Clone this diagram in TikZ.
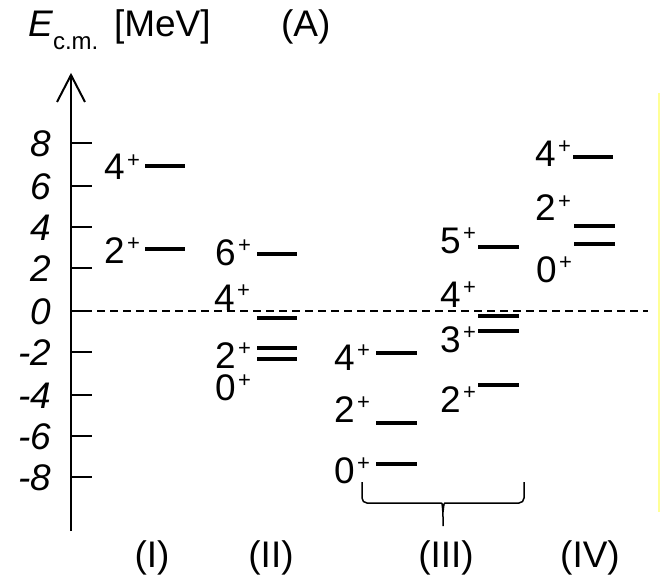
\documentclass[tikz,border=0pt]{standalone}
\usepackage{fontspec}
\setmainfont{Liberation Sans}
\newcommand\pl{\kern2.5pt\raisebox{13pt}{\fontsize{22}{22}\selectfont +}}
\begin{document}
\begin{tikzpicture}[x=1pt,y=-1pt,
  lbl/.style={anchor=base west,inner sep=0pt,outer sep=0pt,text height=27pt,text depth=0pt,font=\fontsize{37}{40}\selectfont},
  num/.style={anchor=base east,inner sep=0pt,outer sep=0pt,font=\fontsize{37}{40}\selectfont\itshape},
  lvl/.style={line width=4.5pt},
  axtick/.style={line width=1.6pt},
  brace/.style={line width=1.5pt,rounded corners=5pt}]
\useasboundingbox (0,0) rectangle (661,580);
% title
\node[lbl,font=\fontsize{37}{40}\selectfont\itshape] (E) at (28,37) {E};
\node[lbl,text height=18pt,font=\fontsize{24}{26}\selectfont] (cm) at (53,50) {c.m.};
\node[lbl] (mev) at (114,37) {[MeV]};
\node[lbl] (A) at (281,37) {(A)};
% axis
\draw[line width=2.6pt] (71,531) -- (71,76);
\draw[line width=2pt,line join=miter] (57,102) -- (71,75) -- (85,102);
\foreach \y/\t in {143/8,186/6,227/4,268/2,311/0,352/-2,395/-4,436/-6,477/-8}{
  \draw[axtick] (71,\y) -- (92,\y);
  \node[num] (n\t) at (51,\y+13.5) {\t};
}
% zero line
\draw[line width=1.4pt,dash pattern=on 8pt off 5pt] (71,311) -- (648,311);
% yellow rule
\draw[line width=2.5pt,color={rgb,255:red,255;green,255;blue,150}] (659,93) -- (659,512);
% column I
\draw[lvl] (145,166) -- (185,166);
\draw[lvl] (145,249) -- (185,249);
\node[lbl] (I4) at (104,180) {4\pl};
\node[lbl] (I2) at (104,263) {2\pl};
% column II
\draw[lvl] (257,254) -- (297,254);
\draw[lvl] (257,318) -- (297,318);
\draw[lvl] (257,348) -- (297,348);
\draw[lvl] (257,359) -- (297,359);
\node[lbl] (II6) at (215,265) {6\pl};
\node[lbl] (II4) at (214,310) {4\pl};
\node[lbl] (II2) at (215,368) {2\pl};
\node[lbl] (II0) at (215,400) {0\pl};
% column III left
\draw[lvl] (376,353) -- (417,353);
\draw[lvl] (376,423) -- (417,423);
\draw[lvl] (376,464) -- (417,464);
\node[lbl] (IIIa4) at (334,370) {4\pl};
\node[lbl] (IIIa2) at (334,422) {2\pl};
\node[lbl] (IIIa0) at (334,483) {0\pl};
% column III right
\draw[lvl] (478,247) -- (519,247);
\draw[lvl] (478,316) -- (519,316);
\draw[lvl] (478,331) -- (519,331);
\draw[lvl] (478,385) -- (519,385);
\node[lbl] (IIIb5) at (440,253) {5\pl};
\node[lbl] (IIIb4) at (440,307) {4\pl};
\node[lbl] (IIIb3) at (440,352) {3\pl};
\node[lbl] (IIIb2) at (440,412) {2\pl};
% column IV
\draw[lvl] (573,157) -- (613,157);
\draw[lvl] (574,226) -- (615,226);
\draw[lvl] (574,244) -- (615,244);
\node[lbl] (IV4) at (535,167) {4\pl};
\node[lbl] (IV2) at (535,221) {2\pl};
\node[lbl] (IV0) at (536,282) {0\pl};
% brace
\draw[brace] (362,482) -- (362,503) -- (436,503) .. controls (442,503) .. (443,512) -- (443,526);
\draw[brace] (524,482) -- (524,503) -- (450,503) .. controls (444,503) .. (443,512);
% bottom labels
\node[anchor=base,inner sep=0pt,font=\fontsize{37}{40}\selectfont] (cI) at (152,567) {(I)};
\node[anchor=base,inner sep=0pt,font=\fontsize{37}{40}\selectfont] (cII) at (271,567) {(II)};
\node[anchor=base,inner sep=0pt,font=\fontsize{37}{40}\selectfont] (cIII) at (446,567) {(III)};
\node[anchor=base,inner sep=0pt,font=\fontsize{37}{40}\selectfont] (cIV) at (590,567) {(IV)};
\end{tikzpicture}
\end{document}
